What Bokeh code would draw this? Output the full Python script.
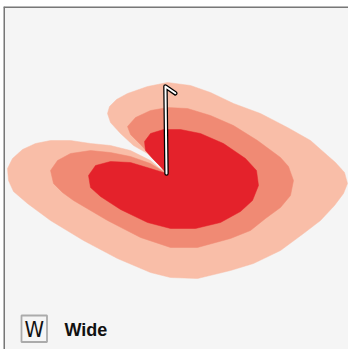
import math
from bokeh.plotting import figure
from bokeh.models import Range1d, Label, BoxAnnotation, Span
from bokeh.embed import file_html
from bokeh.resources import INLINE

# Probability contours around the station (offsets east / north of centre)
outer_x = [0, -8, -16, -26, -36, -56, -76, -96, -116, -131, -144, -154, -159, -158, -153, -139, -116, -83, -49, -16,
           4, 31, 64, 87, 114, 137, 154, 168, 177, 181, 178, 169, 161, 144, 121, 94, 67, 44, 24, 1, -19, -39,
           -50, -57, -59, -56, -46, -33, -19, -8]
outer_y = [0, 6, 13, 18, 23, 28, 30, 33, 33, 30, 24, 15, 5, -7, -18, -30, -47, -67, -85, -99,
           -104, -105, -97, -90, -77, -60, -47, -32, -20, -10, 1, 11, 18, 33, 46, 60, 70, 81, 88, 91, 87, 80,
           74, 67, 60, 51, 40, 28, 20, 10]

middle_x = [0, -16, -36, -56, -76, -96, -109, -116, -113, -104, -93, -59, -26, 4, 31, 64, 84, 99, 114, 124,
            127, 122, 114, 91, 67, 44, 21, 1, -16, -31, -39, -36, -26, -16, -8]
middle_y = [0, 10, 17, 21, 23, 20, 13, 3, -10, -19, -27, -47, -64, -74, -74, -65, -57, -45, -34, -22,
            -7, 7, 16, 33, 48, 58, 65, 66, 63, 56, 47, 39, 29, 18, 9]

inner_x = [0, -16, -36, -56, -71, -78, -76, -66, -46, -19, 4, 29, 54, 74, 86, 92, 90, 79, 57, 34,
           14, -3, -16, -22, -21, -14, -6]
inner_y = [0, 5, 11, 12, 8, -2, -14, -23, -36, -49, -55, -55, -49, -38, -27, -12, 3, 15, 30, 40,
           44, 44, 40, 32, 23, 15, 7]

# Wind observation at the centre
wind_dir_deg = 359.3
wind_speed_kt = 10
legend_code = "W"
legend_label = "Wide"

colors = ["#f9bea8", "#f08a74", "#e4222b"]

p = figure(width=348, height=349, output_backend="svg", toolbar_location=None,
           x_range=Range1d(-163, 182), y_range=Range1d(-176, 167),
           min_border=0, min_border_left=3, min_border_top=6, tools="")
p.axis.visible = False
p.grid.visible = False
p.outline_line_color = None
p.background_fill_color = "#f5f5f5"
p.border_fill_color = "white"

for xs, ys, c in [(outer_x, outer_y, colors[0]), (middle_x, middle_y, colors[1]), (inner_x, inner_y, colors[2])]:
    p.patch(xs, ys, fill_color=c, line_color=c, line_width=0.5)

# wind barb
staff_len = 87
barb_len = 12
th = math.radians(wind_dir_deg)
tx, ty = staff_len * math.sin(th), staff_len * math.cos(th)
bth = th + math.radians(125)
bx, by = tx + barb_len * math.sin(bth), ty + barb_len * math.cos(bth)
barb_xs = [0, tx, bx]
barb_ys = [0, ty, by]
p.line(barb_xs, barb_ys, line_color="black", line_width=4.5, line_cap="round", line_join="round")
p.line(barb_xs, barb_ys, line_color="white", line_width=2, line_cap="round", line_join="round")

# frame edges (left and top only)
p.add_layout(Span(location=-162.5, dimension="height", line_color="#777777", line_width=2))
p.add_layout(Span(location=166.5, dimension="width", line_color="#777777", line_width=2))

# legend
p.add_layout(BoxAnnotation(left=-145, right=-119.5, bottom=-168.5, top=-142,
                           fill_color="white", fill_alpha=0, line_color="black", line_width=1.8))
p.add_layout(Label(x=-132.3, y=-155.5, text=legend_code, text_align="center", text_baseline="middle",
                   text_font="Liberation Sans Narrow, DejaVu Sans Condensed, Liberation Sans",
                   text_font_size="22px", text_color="#111111"))
p.add_layout(Label(x=-102, y=-156, text=legend_label, text_align="left", text_baseline="middle",
                   text_font="Liberation Sans", text_font_style="bold", text_font_size="18px",
                   text_color="#111111"))

open("out.html", "w").write(file_html(p, INLINE))
